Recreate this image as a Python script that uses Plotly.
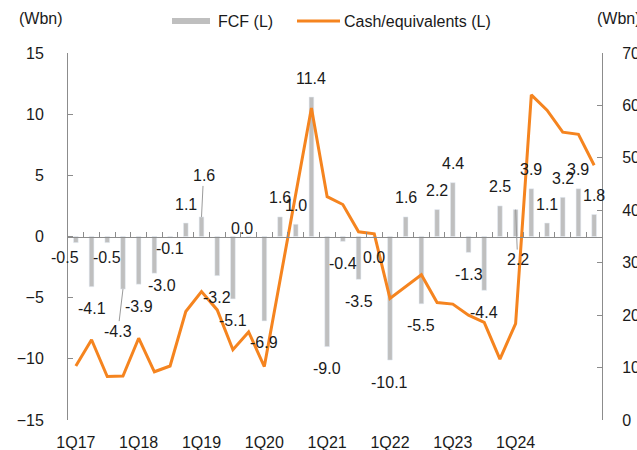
import plotly.graph_objects as go

quarters = [f"{q}Q{y}" for y in range(17, 26) for q in range(1, 5)][:34]

fcf = [-0.5, -4.1, -0.5, -4.3, -3.9, -3.0, -0.1, 1.1, 1.6, -3.2, -5.1, 0.0,
       -6.9, 1.6, 1.0, 11.4, -9.0, -0.4, -3.5, 0.0, -10.1, 1.6, -5.5, 2.2,
       4.4, -1.3, -4.4, 2.5, 2.2, 3.9, 1.1, 3.2, 3.9, 1.8]

cash = [10.3, 15.3, 8.3, 8.4, 15.6, 9.2, 10.3, 20.7, 24.5, 21.0, 13.4, 16.8,
        10.2, 26.7, 43.1, 59.5, 42.6, 41.1, 35.9, 35.5, 23.2, 25.4, 27.7, 22.4,
        22.1, 20.0, 18.6, 11.6, 18.4, 62.0, 59.1, 54.9, 54.5, 48.6]

tick_quarters = ["1Q17", "1Q18", "1Q19", "1Q20", "1Q21", "1Q22", "1Q23", "1Q24"]

GRAY = "#bfbfbf"
ORANGE = "#F5841F"
AXIS = "#8c8c8c"
TXT = "#1a1a1a"
FONT = "Liberation Sans, Arial, sans-serif"

OFF = 0  # page margin removed via post_script below
W, H = 637, 450
L, T = 68 - OFF, 53 - OFF
R, B = W - (602 - OFF), H - (420 - OFF)
PW, PH = W - L - R, H - T - B


def px(xp):
    return (xp - OFF - L) / PW


def py(yp):
    return (H - B - (yp - OFF)) / PH


fig = go.Figure()

fig.add_trace(go.Bar(x=quarters, y=fcf, marker_color=GRAY, name="FCF (L)",
                     showlegend=False, xaxis="x", yaxis="y"))
fig.add_trace(go.Scatter(x=quarters, y=cash, mode="lines", name="Cash/equivalents (L)",
                         showlegend=False,
                         line=dict(color=ORANGE, width=3), xaxis="x", yaxis="y2"))
# invisible trace carrying the bottom label axis
fig.add_trace(go.Scatter(x=quarters, y=[0] * len(quarters), mode="lines",
                         line=dict(width=0), opacity=0, showlegend=False,
                         hoverinfo="skip", xaxis="x2", yaxis="y"))

# data labels: (xshift, yshift) overrides; default positive up, negative down
overrides = {0: (-11, -15), 2: (0, -15), 5: (8, -12), 6: (0, -11),
             11: (-7, 8), 19: (0, -21)}
leaders = {3: (-5, 42), 8: (2, -41), 28: (2, 50)}

for i, (q, v) in enumerate(zip(quarters, fcf)):
    label = f"{v:.1f}"
    if i in leaders:
        ax, ay = leaders[i]
        fig.add_annotation(x=q, y=v, xref="x", yref="y", text=label,
                           showarrow=True, arrowhead=0, arrowwidth=1,
                           arrowcolor="#9a9a9a", ax=ax, ay=ay, standoff=0,
                           font=dict(size=16, color=TXT, family=FONT))
        continue
    if i in overrides:
        dx, dy = overrides[i]
    else:
        dx, dy = (0, 19) if v > 0 else (0, -22)
    fig.add_annotation(x=q, y=v, xref="x", yref="y", text=label, showarrow=False,
                       xshift=dx, yshift=dy, yanchor="middle",
                       font=dict(size=16, color=TXT, family=FONT))

# unit labels
for xp in (17, 595):
    fig.add_annotation(x=px(xp), y=py(18), xref="paper", yref="paper",
                       text="(Wbn)", showarrow=False, xanchor="left", yanchor="middle",
                       font=dict(size=16, color=TXT, family=FONT))

# legend (drawn manually to match swatch lengths)
legend_items = [("FCF (L)", GRAY, 6, 172, 210, 216),
                ("Cash/equivalents (L)", ORANGE, 3, 297, 340, 342)]
for name, color, lw, x0, x1, xt in legend_items:
    fig.add_shape(type="line", xref="paper", yref="paper",
                  x0=px(x0), x1=px(x1), y0=py(21), y1=py(21),
                  line=dict(color=color, width=lw))
    fig.add_annotation(x=px(xt), y=py(21), xref="paper", yref="paper", text=name,
                       showarrow=False, xanchor="left", yanchor="middle",
                       font=dict(size=16, color=TXT, family=FONT))

fig.update_layout(
    width=W, height=H,
    margin=dict(l=L, r=R, t=T, b=B, autoexpand=False),
    paper_bgcolor="white", plot_bgcolor="white",
    font=dict(family=FONT, size=16, color=TXT),
    bargap=0.7,
    showlegend=False,
    hovermode=False,
    xaxis=dict(type="category", categoryorder="array", categoryarray=quarters,
               range=[-0.5, len(quarters) - 0.5], anchor="free", position=0.5,
               showline=True, linecolor=AXIS, linewidth=1,
               ticks="inside", tickson="boundaries", ticklen=5, tickcolor=AXIS,
               showticklabels=False, showgrid=False, zeroline=False),
    xaxis2=dict(type="category", categoryorder="array", categoryarray=quarters,
                range=[-0.5, len(quarters) - 0.5], overlaying="x", anchor="y",
                side="bottom", showline=False, ticks="", showgrid=False,
                tickmode="array", tickvals=tick_quarters, ticktext=tick_quarters,
                tickangle=0, ticklabelstandoff=11,
                tickfont=dict(size=16, color=TXT, family=FONT)),
    yaxis=dict(range=[-15, 15], dtick=5, tick0=0, showline=True, linecolor=AXIS,
               ticks="inside", ticklen=5, tickcolor=AXIS, showgrid=False,
               zeroline=False, ticklabelstandoff=20,
               tickfont=dict(size=16, color=TXT, family=FONT)),
    yaxis2=dict(range=[0, 70], dtick=10, tick0=0, overlaying="y", side="right",
                anchor="x", showline=True, linecolor=AXIS, ticks="inside",
                ticklen=5, tickcolor=AXIS, showgrid=False, zeroline=False,
                ticklabelstandoff=16,
                tickfont=dict(size=16, color=TXT, family=FONT)),
)

fig.write_html("out.html",
               config={"displayModeBar": False},
               post_script="document.body.style.margin='0';"
                           "document.body.style.overflow='hidden';")
